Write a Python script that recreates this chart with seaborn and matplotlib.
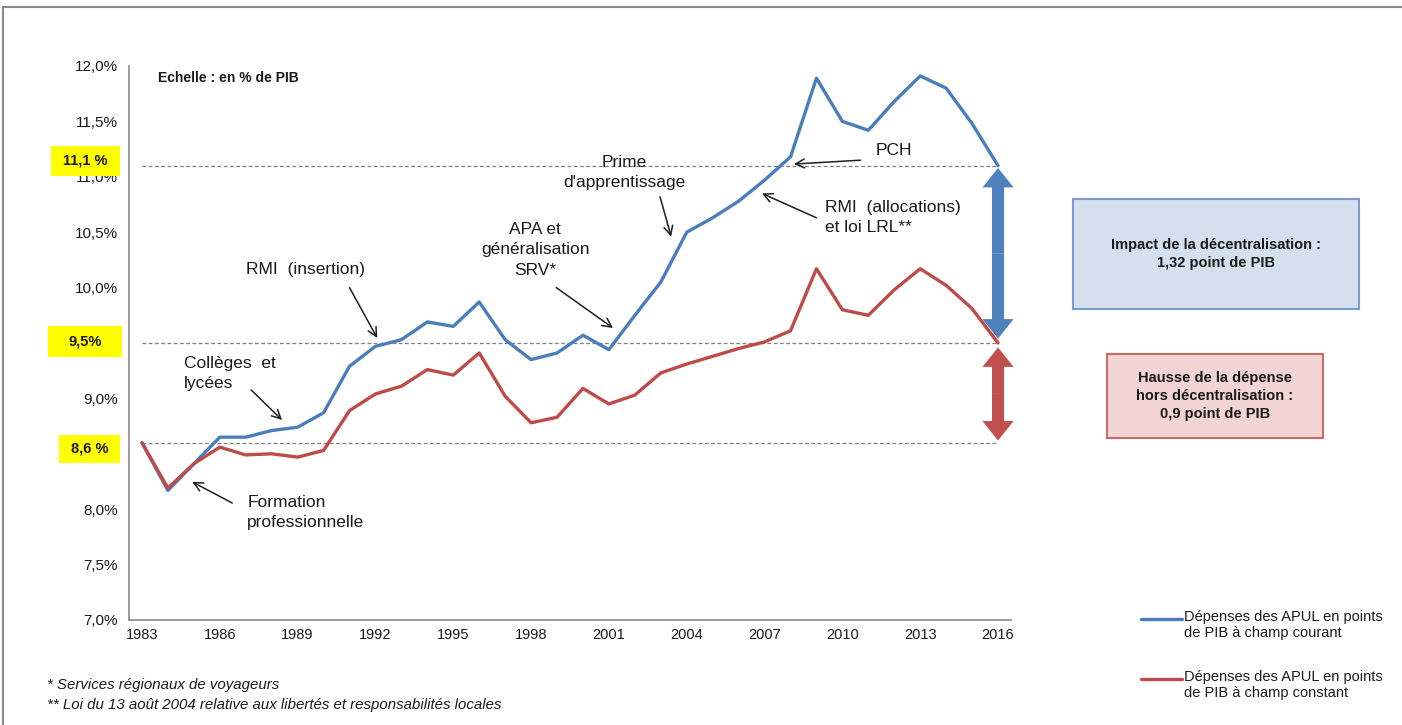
import numpy as np
import pandas as pd
import matplotlib
matplotlib.use("Agg")
import matplotlib.pyplot as plt
import seaborn as sns
from matplotlib.patches import Rectangle, FancyArrowPatch
from matplotlib.lines import Line2D
import matplotlib.transforms as mtransforms

# ---------------- data ----------------
years = list(range(1983, 2017))
courant = [8.60, 8.17, 8.41, 8.65, 8.65, 8.71, 8.74, 8.87, 9.29, 9.47, 9.53, 9.69,
           9.65, 9.87, 9.53, 9.35, 9.41, 9.57, 9.44, 9.75, 10.05, 10.50, 10.63,
           10.78, 10.97, 11.18, 11.89, 11.50, 11.42, 11.68, 11.91, 11.80, 11.48, 11.10]
constant = [8.60, 8.19, 8.41, 8.56, 8.49, 8.50, 8.47, 8.53, 8.89, 9.04, 9.11, 9.26,
            9.21, 9.41, 9.02, 8.78, 8.83, 9.09, 8.95, 9.03, 9.23, 9.31, 9.38,
            9.45, 9.51, 9.61, 10.17, 9.80, 9.75, 9.98, 10.17, 10.02, 9.81, 9.50]
series_names = ["Dépenses des APUL en points\nde PIB à champ courant",
                "Dépenses des APUL en points\nde PIB à champ constant"]
ref_levels = [11.1, 9.5, 8.6]
ref_labels = ["11,1 %", "9,5%", "8,6 %"]
xtick_years = list(range(1983, 2017, 3))
ytick_values = [7.0, 7.5, 8.0, 8.5, 9.0, 9.5, 10.0, 10.5, 11.0, 11.5, 12.0]
ytick_labels = ["7,0%", "7,5%", "8,0%", "8,5%", "9,0%", "9,5%", "10,0%",
                "10,5%", "11,0%", "11,5%", "12,0%"]
impact_text = "Impact de la décentralisation :\n1,32 point de PIB"
hausse_text = "Hausse de la dépense\nhors décentralisation :\n0,9 point de PIB"
footnotes = ["* Services régionaux de voyageurs",
             "** Loi du 13 août 2004 relative aux libertés et responsabilités locales"]

BLUE = "#4a7ebb"
RED = "#be4b48"

df = pd.DataFrame({
    "annee": years * 2,
    "valeur": courant + constant,
    "serie": [series_names[0]] * len(years) + [series_names[1]] * len(years),
})

sns.set_theme(style="white")
plt.rcParams["font.family"] = ["Liberation Sans", "DejaVu Sans"]

W, H = 1402, 725
fig = plt.figure(figsize=(W / 100, H / 100), dpi=100)
AX_L, AX_T, AX_W, AX_H = 129, 66, 882, 554
ax = fig.add_axes([AX_L / W, 1 - (AX_T + AX_H) / H, AX_W / W, AX_H / H])

sns.lineplot(data=df, x="annee", y="valeur", hue="serie",
             palette=[BLUE, RED], linewidth=2.4, ax=ax, legend=False, zorder=4)

ax.set_xlim(1982.5, 2016.5)
ax.set_ylim(7.0, 12.0)
ax.set_xlabel("")
ax.set_ylabel("")

for s in ["top", "right"]:
    ax.spines[s].set_visible(False)
for s in ["left", "bottom"]:
    ax.spines[s].set_color("#8c8c8c")
    ax.spines[s].set_linewidth(1.2)

ax.set_xticks(xtick_years)
ax.set_xticklabels([str(y) for y in xtick_years])
ax.set_xticks(np.arange(1982.5, 2017, 1.0), minor=True)
ax.tick_params(axis="x", which="major", length=0, pad=6, labelsize=10.5, labelcolor="#1a1a1a")
ax.tick_params(axis="x", which="minor", length=5, width=1, color="#8c8c8c", direction="out")
# tick labels hidden under the yellow highlight boxes in the original
hidden = {8.5, 9.5}
ax.set_yticks(ytick_values)
ax.set_yticklabels(["" if v in hidden else l for v, l in zip(ytick_values, ytick_labels)])
ax.tick_params(axis="y", which="major", length=5, width=1, color="#8c8c8c",
               direction="out", labelsize=11, labelcolor="#1a1a1a", pad=3)
ax.grid(False)

# reference dashed lines
ax.hlines(ref_levels, years[0], years[-1], colors="#7f7f7f",
          linestyles=(0, (3, 2)), linewidth=0.9, zorder=2)

# yellow highlighted labels (box extents in pixels: x0, x1, y0, y1)
def px2y(py):
    return 12.0 - (py - AX_T) * 5.0 / AX_H

def px2ax(px):
    return (px - AX_L) / AX_W

blend = mtransforms.blended_transform_factory(ax.transAxes, ax.transData)
box_px = [(51, 120, 146, 176), (48, 122, 326, 357), (59, 120, 435, 463)]
for lab, (x0, x1, y0, y1) in zip(ref_labels, box_px):
    ax.add_patch(Rectangle((px2ax(x0), px2y(y1)), px2ax(x1) - px2ax(x0),
                           px2y(y0) - px2y(y1), transform=blend, fc="#ffff00",
                           ec="none", clip_on=False, zorder=9))
    ax.text((px2ax(x0) + px2ax(x1)) / 2, (px2y(y0) + px2y(y1)) / 2, lab,
            transform=blend, ha="center", va="center", fontsize=10.5,
            fontweight="bold", color="#1a1a1a", clip_on=False, zorder=10)

# scale caption
ax.text(1983.6, 11.89, "Echelle : en % de PIB", fontsize=10, fontweight="bold",
        ha="left", va="center", color="#1a1a1a")

# annotations: (text, text pos, ha, arrow tail, arrow head)
ann = [
    ("PCH", (2011.97, 11.24), "center", (2010.7, 11.15), (2008.13, 11.115)),
    ("RMI  (allocations)\net loi LRL**", (2009.33, 10.63), "left", (2009.0, 10.63), (2006.9, 10.85)),
    ("Prime\nd'apprentissage", (2001.6, 11.04), "center", (2002.97, 10.82), (2003.4, 10.46)),
    ("APA et\ngénéralisation\nSRV*", (1998.16, 10.34), "center", (1998.97, 10.0), (2001.16, 9.635)),
    ("RMI  (insertion)", (1989.3, 10.16), "center", (1991.0, 10.0), (1992.07, 9.545)),
    ("Collèges  et\nlycées", (1984.63, 9.225), "left", (1987.21, 9.076), (1988.4, 8.805)),
    ("Formation\nprofessionnelle", (1987.06, 7.97), "left", (1986.48, 8.056), (1984.94, 8.246)),
]
for txt, pos, ha, tail, head in ann:
    ax.text(pos[0], pos[1], txt, ha=ha, va="center", fontsize=12.5,
            color="#1a1a1a", linespacing=1.45, zorder=6)
    ax.annotate("", xy=head, xytext=tail,
                arrowprops=dict(arrowstyle="->", color="#1f1f1f", lw=1.1,
                                mutation_scale=16, shrinkA=0, shrinkB=0),
                zorder=6)

# double arrows
def double_arrow(x, y0, y1, color):
    mid = (y0 + y1) / 2
    style = "simple,head_length=1.0,head_width=1.6,tail_width=0.62"
    for end in (y0, y1):
        ax.add_patch(FancyArrowPatch((x, mid), (x, end), arrowstyle=style,
                                     mutation_scale=14, color=color, lw=0,
                                     shrinkA=0, shrinkB=0, zorder=5,
                                     clip_on=False))

double_arrow(2016, ref_levels[1] + 0.04, ref_levels[0] - 0.02, "#4f81bd")
double_arrow(2016, ref_levels[2] + 0.02, ref_levels[1] - 0.04, "#c0504d")

# boxes
def fig_box(x0, y0, x1, y1, fc, ec, text):
    fig.add_artist(Rectangle((x0 / W, 1 - y1 / H), (x1 - x0) / W, (y1 - y0) / H,
                             transform=fig.transFigure, fc=fc, ec=ec, lw=1.5))
    fig.text((x0 + x1) / 2 / W, 1 - (y0 + y1) / 2 / H, text, ha="center",
             va="center", fontsize=10.5, fontweight="bold", color="#1a1a1a",
             linespacing=1.4)

fig_box(1073, 199, 1359, 309, "#d5e0ef", "#7a9ccc", impact_text)
fig_box(1107, 354, 1323, 438, "#f1d4d3", "#cc6a67", hausse_text)

# legend (manual)
for name, color, yline in zip(series_names, [BLUE, RED], [619, 679]):
    fig.add_artist(Line2D([1141 / W, 1182 / W], [1 - yline / H, 1 - yline / H],
                          transform=fig.transFigure, color=color, lw=2.4))
    fig.text(1184 / W, 1 - (yline - 9) / H, name, ha="left", va="top",
             fontsize=10.5, color="#1a1a1a", linespacing=1.15)

# footnotes
for i, fn in enumerate(footnotes):
    fig.text(47 / W, 1 - (685 + 20 * i) / H, fn, ha="left", va="center",
             fontsize=10.8, style="italic", color="#1a1a1a")

# outer frame (top and left)
fig.add_artist(Line2D([3 / W, 1.0], [1 - 7 / H, 1 - 7 / H], transform=fig.transFigure,
                      color="#8a8a8a", lw=1.5))
fig.add_artist(Line2D([3 / W, 3 / W], [0, 1 - 7 / H], transform=fig.transFigure,
                      color="#8a8a8a", lw=1.5))

fig.savefig("out.png", dpi=100, facecolor="white")
